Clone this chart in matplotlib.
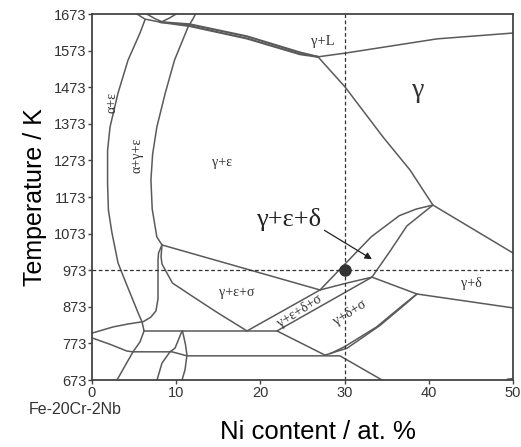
import matplotlib.pyplot as plt
import numpy as np

# phase boundaries, each as (Ni at.%, T / K) points
liquidus_a = [(8.08, 1651), (11.6, 1645), (18.4, 1612), (24.7, 1568), (26.84, 1556)]
liquidus_b = [(8.08, 1651), (11.6, 1640), (18.4, 1606), (24.7, 1563), (26.84, 1556)]
gamma_l_top = [(26.84, 1556), (30.04, 1566), (40.97, 1605), (50, 1621)]
gamma_solvus = [(26.84, 1556), (30.04, 1474), (34.56, 1337), (37.76, 1247), (40.49, 1151), (50, 1020)]
top_arc_1 = [(5.34, 1673), (6.29, 1659), (8.08, 1651)]
top_arc_2 = [(6.5, 1673), (7.5, 1660), (8.3, 1652), (9.2, 1662), (10.0, 1673)]
alpha_eps = [(6.29, 1657), (5.7, 1621), (4.28, 1547), (3.09, 1457), (2.14, 1364), (1.85, 1300),
             (1.85, 1210), (1.95, 1137), (2.37, 1075), (3.09, 993), (4.0, 940), (4.8, 895),
             (5.5, 855), (5.94, 832), (6.18, 807)]
alpha_gamma_eps = [(12.3, 1673), (12.0, 1660), (11.4, 1637), (9.8, 1547), (8.7, 1457), (7.7, 1364),
                   (7.2, 1290), (7.0, 1220), (7.15, 1140), (7.7, 1064), (8.31, 1042)]
eps_sigma = [(8.31, 1042), (27.08, 919)]
inner_left = [(8.31, 1042), (7.9, 1020), (7.84, 1000), (7.84, 895), (7.6, 862), (7.0, 845), (6.06, 832)]
inner_right = [(8.31, 1042), (8.2, 1010), (8.31, 990), (9.55, 938), (12.3, 896), (14.9, 857), (18.41, 807)]
lens_upper = [(27.08, 919), (30.3, 996), (33.2, 1065), (36.5, 1122), (38.5, 1140), (40.49, 1151)]
lens_inner = [(40.49, 1151), (37.4, 1094), (35.4, 1025), (33.25, 954)]
lens_lower = [(27.08, 919), (30.28, 938), (33.25, 954)]
delta_upper = [(33.25, 954), (38.59, 908), (50, 870)]
sigma_right_a = [(38.59, 908), (37.4, 884), (34.2, 822), (30.3, 760), (27.67, 741)]
sigma_right_b = [(38.59, 908), (37.0, 879), (33.8, 818), (30.0, 764), (28.3, 745)]
band_upper = [(18.41, 807), (27.08, 919)]
band_lower = [(21.97, 807), (33.25, 954)]
sigma_left = [(21.97, 807), (27.67, 741)]
iso_807 = [(6.18, 807), (21.97, 807)]
iso_low = [(4.87, 750), (9.5, 750), (11.28, 739), (29.45, 739), (34.44, 673)]
left_a = [(0, 801), (2.5, 818), (4.28, 826), (5.94, 832)]
left_b = [(0, 788), (2.2, 770), (4.16, 752), (4.87, 750)]
drop_1 = [(6.18, 807), (5.7, 777), (4.87, 750), (2.97, 673)]
drop_2 = [(10.69, 807), (9.86, 760), (9.26, 750), (8.31, 719), (7.72, 673)]
drop_3 = [(10.75, 807), (11.1, 770), (11.28, 741), (11.04, 700), (10.69, 673)]
corner = [(49.3, 675), (50, 677)]

boundaries = [gamma_l_top, gamma_solvus, top_arc_1, top_arc_2,
              alpha_eps, alpha_gamma_eps, eps_sigma, inner_left, inner_right, lens_upper,
              lens_inner, lens_lower, delta_upper, sigma_right_a, sigma_right_b, band_upper,
              band_lower, sigma_left, iso_807, iso_low, left_a, left_b, drop_1, drop_2,
              drop_3, corner]

# phase field labels: text, Ni, T, size, rotation
field_labels = [
    ('γ+L', 27.4, 1597, 10.5, 0),
    ('γ', 38.7, 1465, 20, 0),
    ('α+ε', 2.4, 1430, 10, 90),
    ('α+γ+ε', 5.34, 1288, 10, 90),
    ('γ+ε', 15.4, 1266, 10, 0),
    ('γ+ε+σ', 17.2, 913, 10, 0),
    ('γ+ε+δ+σ', 24.7, 862, 10, 32),
    ('γ+δ+σ', 30.6, 856, 10, 32),
    ('γ+δ', 45.1, 938, 10, 0),
]

ni_ticks = [0, 10, 20, 30, 40, 50]
t_ticks = [673, 773, 873, 973, 1073, 1173, 1273, 1373, 1473, 1573, 1673]
sample_ni = 30
sample_t = 973

line_col = '#5a5a5a'
sans = ['Liberation Sans', 'DejaVu Sans']
serif = ['Liberation Serif', 'DejaVu Serif']

fig = plt.figure(figsize=(5.21, 4.47), dpi=100)
ax = fig.add_axes([92 / 521, 67 / 447, 421 / 521, 366 / 447])

for b in boundaries:
    pts = np.array(b)
    ax.plot(pts[:, 0], pts[:, 1], color=line_col, lw=1.1, solid_capstyle='round')

# liquidus / solidus pair drawn heavier
for b in (liquidus_a, liquidus_b):
    pts = np.array(b)
    ax.plot(pts[:, 0], pts[:, 1], color=line_col, lw=1.5, solid_capstyle='round')

ax.axvline(sample_ni, color='#333333', lw=0.9, ls=(0, (3, 2)))
ax.axhline(sample_t, color='#333333', lw=0.9, ls=(0, (3, 2)))
ax.plot([sample_ni], [sample_t], 'o', color='#333333', ms=8, zorder=5)

for txt, x, y, size, rot in field_labels:
    ax.text(x, y, txt, fontsize=size, rotation=rot, ha='center', va='center',
            family=serif, color='#333333')

# three-phase field pointed out by an arrow
ax.text(23.3, 1112, 'γ+ε+δ', fontsize=19, family=serif, ha='center', va='center', color='#222222')
ax.annotate('', xy=(33.25, 1003), xytext=(27.6, 1082),
            arrowprops=dict(arrowstyle='-|>', color='#222222', lw=0.9,
                            mutation_scale=10, shrinkA=0, shrinkB=0))

ax.set_xlim(0, 50)
ax.set_ylim(673, 1673)
ax.set_xticks(ni_ticks)
ax.set_yticks(t_ticks)
ax.tick_params(direction='out', length=3, width=1, color='#444444', labelsize=10.5, pad=1)
for lab in ax.get_xticklabels() + ax.get_yticklabels():
    lab.set_family(sans)
    lab.set_color('#333333')
for s in ax.spines.values():
    s.set_color('#444444')
    s.set_linewidth(1.3)

ax.set_ylabel('Temperature / K', fontsize=18, family=sans, labelpad=5)
fig.text(318 / 521, 1 - 432 / 447, 'Ni content / at. %', fontsize=18.5,
         family=sans, ha='center', va='center')
fig.text(75 / 521, 1 - 410 / 447, 'Fe-20Cr-2Nb', fontsize=11.5,
         family=sans, ha='center', va='center', color='#333333')

fig.savefig('out.png', dpi=100)
